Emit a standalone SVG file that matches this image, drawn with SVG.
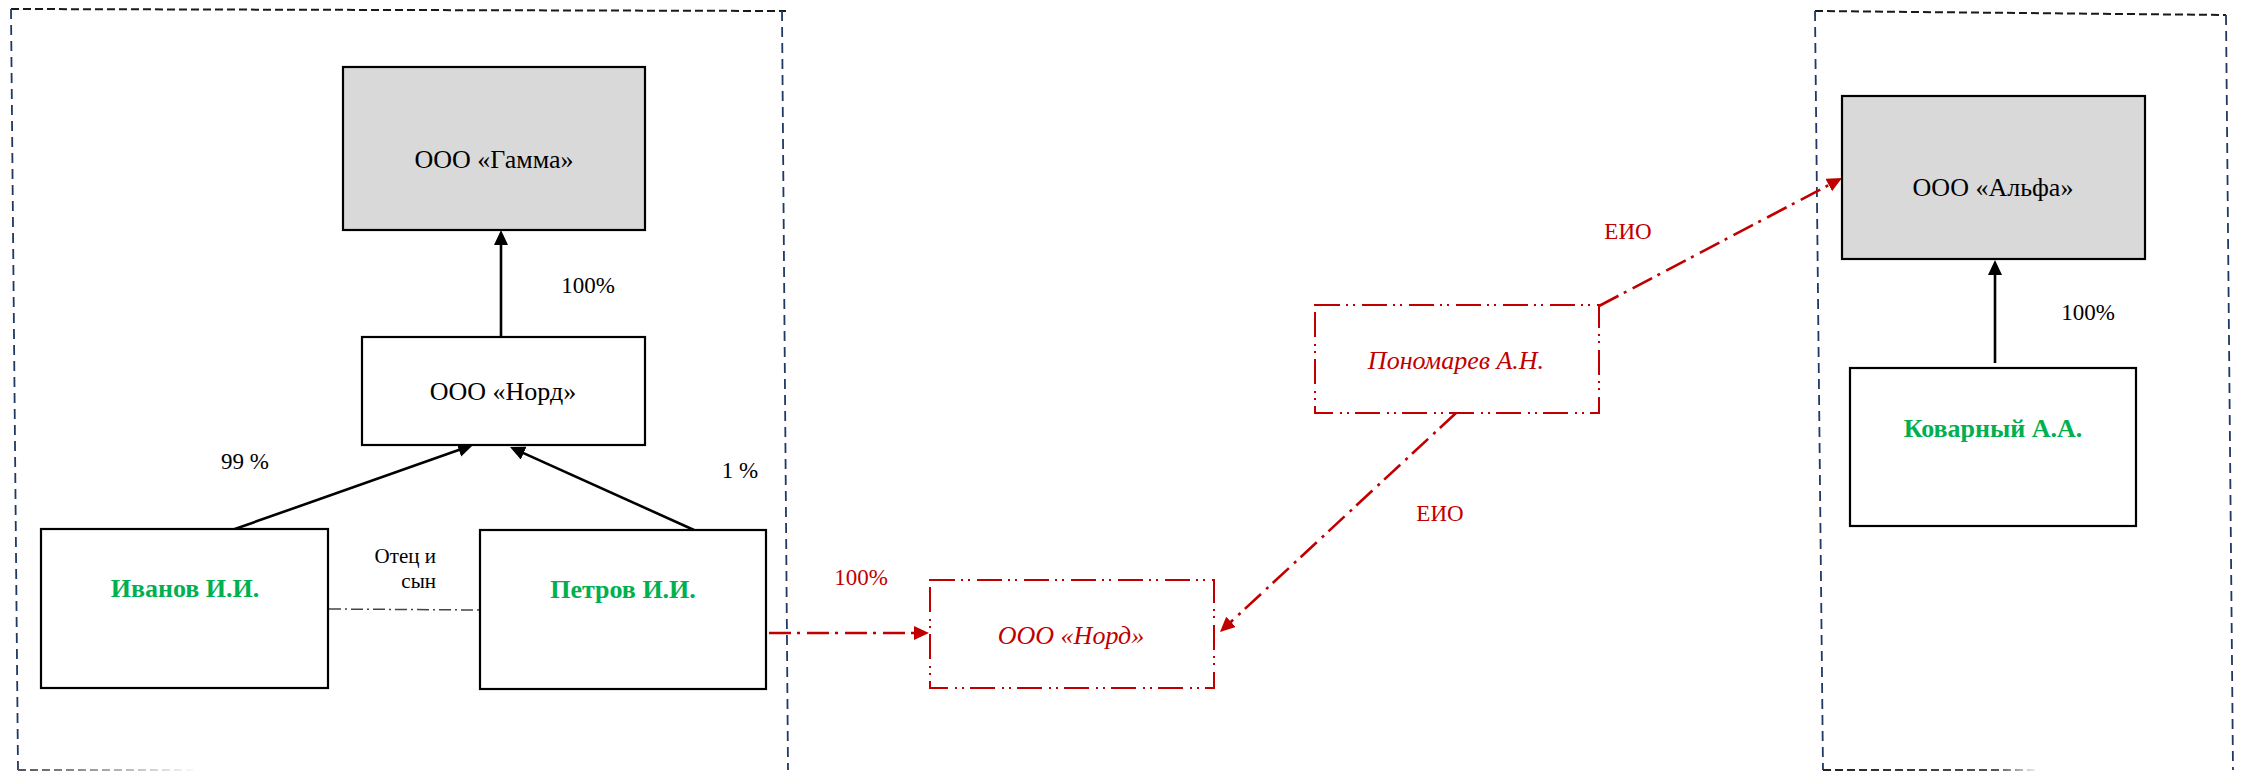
<svg xmlns="http://www.w3.org/2000/svg" width="2242" height="772" viewBox="0 0 2242 772">
<style>
text{font-family:"Liberation Serif","Times New Roman",serif;}
.box{fill:#fff;stroke:#000;stroke-width:2.2;}
.gray{fill:#d9d9d9;stroke:#000;stroke-width:2.2;}
.rbox{fill:#fff;stroke:#c00000;stroke-width:2;stroke-dasharray:25 6 2 5 2 7;}
.t{font-size:26px;fill:#000;text-anchor:middle;}
.g{font-size:26px;font-weight:bold;fill:#00b050;text-anchor:middle;}
.ri{font-size:26px;font-style:italic;fill:#c00000;text-anchor:middle;}
.lbl{font-size:23px;fill:#000;text-anchor:middle;}
.rl{font-size:23px;fill:#c00000;text-anchor:middle;}
.sm{font-size:21px;fill:#000;text-anchor:end;}
.arr{stroke:#000;stroke-width:2.6;fill:none;marker-end:url(#ab);}
.rarr{stroke:#c00000;stroke-width:2.6;fill:none;stroke-dasharray:22 6 3 7;marker-end:url(#ar);}
.cdark{stroke:#1a1a1a;stroke-width:2;fill:none;stroke-dasharray:8 4;}
.cnavy{stroke:#1f3864;stroke-width:1.8;fill:none;stroke-dasharray:10 6;}
</style>
<defs>
<marker id="ab" markerUnits="userSpaceOnUse" markerWidth="16" markerHeight="16" refX="5" refY="7" orient="auto">
<path d="M0,0 L15,7 L0,14 z" fill="#000"/>
</marker>
<marker id="ar" markerUnits="userSpaceOnUse" markerWidth="16" markerHeight="16" refX="5" refY="7" orient="auto">
<path d="M0,0 L15,7 L0,14 z" fill="#c00000"/>
</marker>
<linearGradient id="fadeL" gradientUnits="userSpaceOnUse" x1="18" y1="0" x2="200" y2="0">
<stop offset="0" stop-color="#555"/>
<stop offset="1" stop-color="#fff"/>
</linearGradient>
<linearGradient id="fadeR" gradientUnits="userSpaceOnUse" x1="1823" y1="0" x2="2040" y2="0">
<stop offset="0" stop-color="#222"/>
<stop offset="0.8" stop-color="#555"/>
<stop offset="1" stop-color="#fff"/>
</linearGradient>
</defs>
<rect width="2242" height="772" fill="#fff"/>

<g id="container-left">
<path class="cdark" d="M11,9 L786,11"/>
<path class="cnavy" d="M11,9 L18,770"/>
<path class="cnavy" d="M782,11 L788,770"/>
<path d="M18,770 L200,770" stroke="url(#fadeL)" stroke-width="2" stroke-dasharray="8 4" fill="none"/>
</g>
<g id="container-right">
<path class="cdark" d="M1815,11 L2226,15"/>
<path class="cnavy" d="M1815,11 L1823,770"/>
<path class="cnavy" d="M2226,15 L2233,770"/>
<path d="M1823,770 L2040,770" stroke="url(#fadeR)" stroke-width="2.2" stroke-dasharray="8 4" fill="none"/>
</g>

<g id="connectors">
<path class="arr" d="M501,337 L501,240"/>
<path class="arr" d="M232,530 L463.6,448.3"/>
<path class="arr" d="M694,530 L519.1,451.1"/>
<path class="arr" d="M1995,363 L1995,270"/>
<path d="M329,609 L479,610" stroke="#444" stroke-width="1.5" fill="none" stroke-dasharray="12 4 2 4"/>
<path class="rarr" d="M769,633 L919,633"/>
<path class="rarr" d="M1456,413 L1227.3,625.2"/>
<path class="rarr" d="M1599,306 L1833.2,182.7"/>
<text class="lbl" x="588" y="293">100%</text>
<text class="lbl" x="245" y="469">99 %</text>
<text class="lbl" x="740" y="478">1 %</text>
<text class="sm" x="436" y="563">Отец и</text>
<text class="sm" x="436" y="588">сын</text>
<text class="rl" x="861" y="585">100%</text>
<text class="rl" x="1440" y="521">ЕИО</text>
<text class="rl" x="1628" y="239">ЕИО</text>
<text class="lbl" x="2088" y="320">100%</text>
</g>

<g id="node-gamma">
<rect class="gray" x="343" y="67" width="302" height="163"/>
<text class="t" x="494" y="168">ООО «Гамма»</text>
</g>
<g id="node-nord">
<rect class="box" x="362" y="337" width="283" height="108"/>
<text class="t" x="503" y="400">ООО «Норд»</text>
</g>
<g id="node-ivanov">
<rect class="box" x="41" y="529" width="287" height="159"/>
<text class="g" x="185" y="597">Иванов И.И.</text>
</g>
<g id="node-petrov">
<rect class="box" x="480" y="530" width="286" height="159"/>
<text class="g" x="623" y="598">Петров И.И.</text>
</g>
<g id="node-nord-red">
<rect class="rbox" x="930" y="580" width="284" height="108"/>
<text class="ri" x="1071" y="644">ООО «Норд»</text>
</g>
<g id="node-ponomarev">
<rect class="rbox" x="1315" y="305" width="284" height="108"/>
<text class="ri" x="1456" y="369">Пономарев А.Н.</text>
</g>
<g id="node-alfa">
<rect class="gray" x="1842" y="96" width="303" height="163"/>
<text class="t" x="1993" y="196">ООО «Альфа»</text>
</g>
<g id="node-kovarny">
<rect class="box" x="1850" y="368" width="286" height="158"/>
<text class="g" x="1993" y="437">Коварный А.А.</text>
</g>
</svg>
